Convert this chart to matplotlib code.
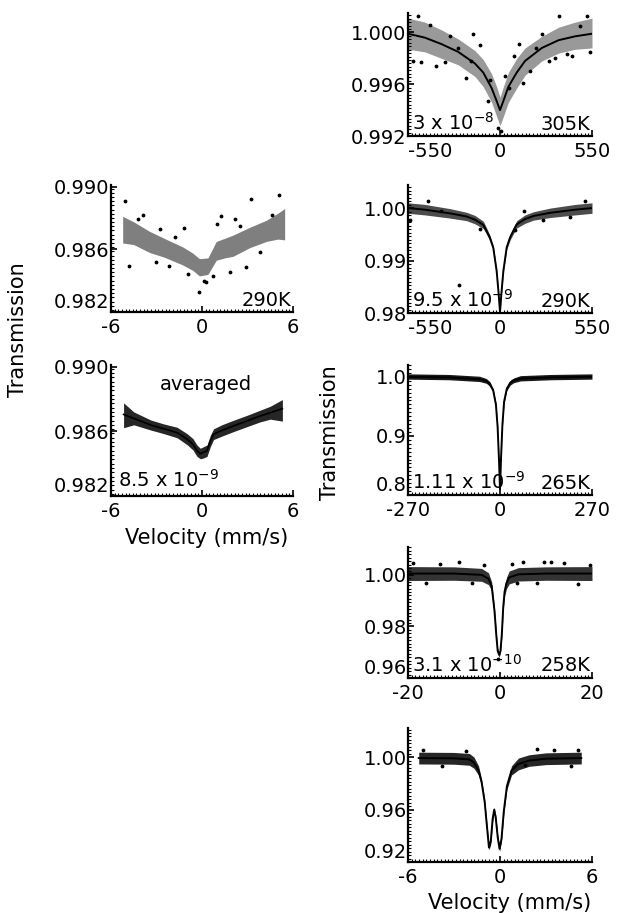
import matplotlib
matplotlib.use("Agg")
import matplotlib.pyplot as plt
from matplotlib.ticker import MultipleLocator

plt.rcParams['font.family'] = ['DejaVu Sans']
plt.rcParams['mathtext.fontset'] = 'dejavusans'

W, H = 617, 913

# ---- 305 K, velocity in mm/s (-550..550) ----
p1_v = [-550, -450, -350, -250, -150, -100, -50, -20, 0, 20, 50, 100, 150, 250, 350, 450, 550]
p1_fit = [0.9999, 0.9996, 0.9991, 0.9985, 0.9976, 0.9969, 0.9957, 0.9947, 0.9940, 0.9947, 0.9958,
          0.9969, 0.9978, 0.9988, 0.9994, 0.9997, 0.9999]
p1_hi = [1.0011, 1.0008, 1.0002, 0.9995, 0.9986, 0.9979, 0.9968, 0.9958, 0.9950, 0.9958, 0.9969,
         0.9980, 0.9988, 0.9997, 1.0004, 1.0008, 1.0011]
p1_lo = [0.9987, 0.9985, 0.9980, 0.9975, 0.9966, 0.9958, 0.9946, 0.9935, 0.9928, 0.9935, 0.9946,
         0.9957, 0.9967, 0.9978, 0.9984, 0.9987, 0.9988]
p1_dx = [-490, -471, -381, -164, -173, 352, 520, 431, 114, 84, -9, 5, -74, 55, 213, 292, -203,
         -253, -520, -300, 400, 250, 180, -60, 30, -420, -330, -120, 140, 330, 480, 540]
p1_dy = [1.0013, 0.9977, 0.9974, 0.9999, 0.9978, 1.0013, 1.0013, 0.9982, 0.9991, 0.9982, 0.99265,
         0.9924, 0.9947, 0.9957, 0.9988, 0.9978, 0.9965, 0.9988, 0.9978, 0.9997, 0.9983, 0.9999,
         0.9970, 0.9963, 0.9966, 1.0006, 0.9977, 0.9990, 0.9961, 0.9980, 1.0005, 0.9985]

# ---- 290 K (-550..550) ----
p2_v = [-550, -450, -300, -200, -150, -100, -80, -60, -40, -20, -8, 0, 8, 20, 40, 60, 80, 100,
        150, 200, 300, 450, 550]
p2_fit = [1.0000, 0.9997, 0.9990, 0.9984, 0.9978, 0.9968, 0.9956, 0.9943, 0.9924, 0.9880, 0.9836,
          0.9802, 0.9836, 0.9880, 0.9925, 0.9944, 0.9957, 0.9969, 0.9979, 0.9985, 0.9991, 0.9997, 1.0000]
p2_hi = [1.0010, 1.0007, 0.9999, 0.9992, 0.9986, 0.9975, 0.9962, 0.9948, 0.9928, 0.9883, 0.9839,
         0.9804, 0.9839, 0.9883, 0.9929, 0.9949, 0.9963, 0.9976, 0.9987, 0.9993, 1.0000, 1.0007, 1.0010]
p2_lo = [0.9990, 0.9987, 0.9981, 0.9976, 0.9970, 0.9961, 0.9950, 0.9938, 0.9920, 0.9877, 0.9833,
         0.9800, 0.9833, 0.9877, 0.9921, 0.9939, 0.9951, 0.9962, 0.9971, 0.9977, 0.9982, 0.9987, 0.9990]
p2_dx = [-540, -430, -243, -120, 143, 260, 420, 510, -350, 90]
p2_dy = [0.9978, 1.0013, 0.9854, 0.9960, 0.9995, 0.9978, 0.9983, 1.0014, 0.9995, 0.9958]

# ---- 265 K (-270..270) ----
p3_v = [-270, -150, -60, -40, -30, -20, -12, -7, -3, 0, 3, 7, 12, 20, 30, 40, 60, 150, 270]
p3_fit = [1.000, 0.999, 0.996, 0.993, 0.988, 0.977, 0.953, 0.915, 0.860, 0.810, 0.862, 0.918,
          0.958, 0.980, 0.990, 0.994, 0.997, 0.999, 1.000]
p3_hi = [1.005, 1.004, 1.001, 0.997, 0.992, 0.980, 0.956, 0.918, 0.862, 0.812, 0.864, 0.921,
         0.961, 0.983, 0.994, 0.998, 1.002, 1.004, 1.005]
p3_lo = [0.996, 0.995, 0.992, 0.989, 0.984, 0.974, 0.950, 0.912, 0.858, 0.808, 0.860, 0.915,
         0.955, 0.977, 0.986, 0.990, 0.993, 0.995, 0.996]

# ---- 258 K (-20..20) ----
p4_v = [-20, -10, -4, -2.5, -1.8, -1.2, -0.8, -0.5, -0.2, 0.1, 0.4, 0.7, 1.0, 1.4, 2.0, 4, 10, 20]
p4_fit = [1.0005, 1.0005, 1.0000, 0.9985, 0.9955, 0.9860, 0.9765, 0.9705, 0.9690, 0.9705, 0.9770,
          0.9875, 0.9935, 0.9968, 0.9990, 1.0002, 1.0005, 1.0005]
p4_hi = [1.0032, 1.0031, 1.0025, 1.0008, 0.9972, 0.9872, 0.9776, 0.9715, 0.9700, 0.9715, 0.9781,
         0.9888, 0.9952, 0.9990, 1.0015, 1.0028, 1.0031, 1.0032]
p4_lo = [0.9978, 0.9979, 0.9975, 0.9962, 0.9938, 0.9848, 0.9754, 0.9695, 0.9680, 0.9695, 0.9759,
         0.9862, 0.9918, 0.9946, 0.9965, 0.9976, 0.9979, 0.9978]
p4_dx = [-19, -16, -13, -9, -6, -3.5, -0.4, 2.5, 5, 8, 11, 14, 17, 19.5, 3.8, 9.5]
p4_dy = [1.0045, 0.9968, 1.0042, 1.0048, 0.9970, 1.0040, 0.9672, 1.0042, 1.0048, 0.9968, 1.0050,
         1.0045, 0.9966, 1.0040, 0.9970, 1.0050]

# ---- bottom spectrum (-6..6 mm/s) ----
p5_v = [-5.3, -3, -2, -1.7, -1.4, -1.2, -1.0, -0.85, -0.72, -0.6, -0.48, -0.38, -0.28, -0.15,
        -0.03, 0.1, 0.25, 0.45, 0.75, 1.2, 1.9, 3, 5.3]
p5_fit = [0.9995, 0.9993, 0.9985, 0.9960, 0.9900, 0.9810, 0.9660, 0.9470, 0.9310, 0.9360, 0.9530,
          0.9600, 0.9540, 0.9390, 0.9300, 0.9380, 0.9590, 0.9780, 0.9900, 0.9950, 0.9976, 0.9990, 0.9995]
p5_hi = [1.0040, 1.0038, 1.0030, 1.0003, 0.9935, 0.9835, 0.9680, 0.9490, 0.9330, 0.9380, 0.9550,
         0.9620, 0.9560, 0.9410, 0.9320, 0.9400, 0.9610, 0.9805, 0.9935, 0.9995, 1.0020, 1.0035, 1.0040]
p5_lo = [0.9950, 0.9948, 0.9940, 0.9917, 0.9865, 0.9785, 0.9640, 0.9450, 0.9290, 0.9340, 0.9510,
         0.9580, 0.9520, 0.9370, 0.9280, 0.9360, 0.9570, 0.9755, 0.9865, 0.9905, 0.9932, 0.9945, 0.9950]
p5_dx = [-5.0, -3.8, -2.2, 1.6, 2.4, 3.5, 4.6, 5.1]
p5_dy = [1.0058, 0.9938, 1.0052, 0.9940, 1.0062, 1.0055, 0.9936, 1.0058]

# ---- left: 290 K (-6..6 mm/s) ----
la_v = [-5.23, -4.5, -3.47, -2.5, -1.27, -0.6, -0.17, 0.39, 0.94, 1.5, 2.04, 3.14, 4.24, 5.0, 5.45]
la_hi = [0.98810, 0.98775, 0.98715, 0.98670, 0.98615, 0.98575, 0.98540, 0.98545, 0.98650, 0.98670,
         0.98690, 0.98740, 0.98785, 0.98830, 0.98860]
la_lo = [0.98640, 0.98630, 0.98580, 0.98550, 0.98500, 0.98465, 0.98430, 0.98440, 0.98530, 0.98545,
         0.98555, 0.98610, 0.98650, 0.98665, 0.98660]
la_dx = [-5.05, -4.79, -3.91, -1.16, -0.21, 0.28, 0.72, 1.27, 1.82, 2.48, 3.25, 2.92, 5.08, -2.15,
         -3.03, -4.2, -1.8, 0.1, 1.0, 3.8, 4.6, -2.8, 2.2, -0.9]
la_dy = [0.98905, 0.98495, 0.98821, 0.98737, 0.98326, 0.98389, 0.98432, 0.98811, 0.98453, 0.98747,
         0.98920, 0.98484, 0.98947, 0.98495, 0.98516, 0.98790, 0.98680, 0.98395, 0.98760, 0.98580,
         0.98820, 0.98730, 0.98790, 0.98440]

# ---- left: averaged ----
lb_v = [-5.17, -4.5, -3.38, -2.5, -1.64, -0.98, -0.6, -0.33, -0.11, 0.1, 0.33, 0.55, 0.76, 1.3,
        2.07, 3.0, 3.82, 4.5, 5.3]
lb_fit = [0.98704, 0.98680, 0.98639, 0.98615, 0.98592, 0.98551, 0.98520, 0.98480, 0.98462, 0.98470,
          0.98480, 0.98540, 0.98582, 0.98605, 0.98633, 0.98665, 0.98694, 0.98715, 0.98740]
lb_hi = [0.98776, 0.98720, 0.98670, 0.98645, 0.98625, 0.98585, 0.98555, 0.98515, 0.98495, 0.98505,
         0.98515, 0.98575, 0.98615, 0.98640, 0.98668, 0.98700, 0.98730, 0.98755, 0.98796]
lb_lo = [0.98622, 0.98640, 0.98608, 0.98585, 0.98560, 0.98517, 0.98485, 0.98445, 0.98430, 0.98435,
         0.98445, 0.98505, 0.98549, 0.98570, 0.98598, 0.98630, 0.98658, 0.98675, 0.98663]


def make_axes(px_left, px_right, px_top, px_bottom):
    return fig.add_axes([px_left / W, 1 - px_bottom / H, (px_right - px_left) / W,
                         (px_bottom - px_top) / H])


def style(ax, xlim, ylim, xticks, xlabels, yticks, ylabels, first_left=False, lift_bottom=True):
    ax.set_xlim(*xlim)
    ax.set_ylim(*ylim)
    for s in ['top', 'right']:
        ax.spines[s].set_visible(False)
    for s in ['left', 'bottom']:
        ax.spines[s].set_linewidth(1.6)
    ax.set_xticks(xticks, xlabels)
    ax.set_yticks(yticks, ylabels)
    ax.xaxis.set_minor_locator(MultipleLocator((xlim[1] - xlim[0]) / 50))
    ax.yaxis.set_minor_locator(MultipleLocator((yticks[-1] - yticks[0]) / 30))
    ax.tick_params(which='major', direction='in', length=4, width=1.2, labelsize=14)
    ax.tick_params(axis='x', which='major', pad=4)
    ax.tick_params(axis='y', which='major', pad=1)
    ax.tick_params(which='minor', direction='in', length=2, width=0.8)
    for lab in ax.get_yticklabels():
        lab.set_verticalalignment('center_baseline')
    if lift_bottom:
        ax.get_yticklabels()[0].set_verticalalignment('bottom')
    if first_left:
        ax.get_xticklabels()[0].set_horizontalalignment('left')


def band(ax, v, lo, hi, alpha):
    ax.fill_between(v, lo, hi, color='black', alpha=alpha, linewidth=0)


fig = plt.figure(figsize=(W / 100, H / 100), dpi=100)
txt = dict(fontsize=14)

# right column
ax1 = make_axes(408, 592, 13, 136)
band(ax1, p1_v, p1_lo, p1_hi, 0.4)
ax1.plot(p1_v, p1_fit, color='black', lw=1.4)
ax1.scatter(p1_dx, p1_dy, s=3, color='black')
style(ax1, (-550, 550), (0.992, 1.0015), [-550, 0, 550], ['-550', '0', '550'],
      [0.992, 0.996, 1.000], ['0.992', '0.996', '1.000'], first_left=True, lift_bottom=False)
ax1.text(0.02, 0.05, r'3 x 10$^{-8}$', transform=ax1.transAxes, **txt)
ax1.text(0.99, 0.05, '305K', transform=ax1.transAxes, ha='right', **txt)

ax2 = make_axes(408, 592, 185, 313)
band(ax2, p2_v, p2_lo, p2_hi, 0.7)
ax2.plot(p2_v, p2_fit, color='black', lw=1.4)
ax2.scatter(p2_dx, p2_dy, s=3, color='black')
style(ax2, (-550, 550), (0.98, 1.0044), [-550, 0, 550], ['-550', '0', '550'],
      [0.98, 0.99, 1.00], ['0.98', '0.99', '1.00'], first_left=True, lift_bottom=False)
ax2.text(0.02, 0.05, r'9.5 x 10$^{-9}$', transform=ax2.transAxes, **txt)
ax2.text(0.99, 0.05, '290K', transform=ax2.transAxes, ha='right', **txt)

ax3 = make_axes(408, 592, 365, 495)
band(ax3, p3_v, p3_lo, p3_hi, 0.9)
ax3.plot(p3_v, p3_fit, color='black', lw=1.4)
style(ax3, (-270, 270), (0.8, 1.02), [-270, 0, 270], ['-270', '0', '270'],
      [0.8, 0.9, 1.0], ['0.8', '0.9', '1.0'])
ax3.text(0.02, 0.05, r'1.11 x 10$^{-9}$', transform=ax3.transAxes, **txt)
ax3.text(0.99, 0.05, '265K', transform=ax3.transAxes, ha='right', **txt)

ax4 = make_axes(408, 592, 547, 678)
band(ax4, p4_v, p4_lo, p4_hi, 0.8)
ax4.plot(p4_v, p4_fit, color='black', lw=1.4)
ax4.scatter(p4_dx, p4_dy, s=3, color='black')
style(ax4, (-20, 20), (0.96, 1.0108), [-20, 0, 20], ['-20', '0', '20'],
      [0.96, 0.98, 1.00], ['0.96', '0.98', '1.00'])
ax4.text(0.02, 0.05, r'3.1 x 10$^{-10}$', transform=ax4.transAxes, **txt)
ax4.text(0.99, 0.05, '258K', transform=ax4.transAxes, ha='right', **txt)

ax5 = make_axes(408, 592, 728, 862)
band(ax5, p5_v, p5_lo, p5_hi, 0.85)
ax5.plot(p5_v, p5_fit, color='black', lw=1.4)
ax5.scatter(p5_dx, p5_dy, s=3, color='black')
style(ax5, (-6, 6), (0.92, 1.0225), [-6, 0, 6], ['-6', '0', '6'],
      [0.92, 0.96, 1.00], ['0.92', '0.96', '1.00'])

# left column
axa = make_axes(111, 293, 185, 312)
band(axa, la_v, la_lo, la_hi, 0.5)
axa.scatter(la_dx, la_dy, s=3, color='black')
style(axa, (-6, 6), (0.982, 0.9901), [-6, 0, 6], ['-6', '0', '6'],
      [0.982, 0.986, 0.990], ['0.982', '0.986', '0.990'])
axa.text(0.99, 0.05, '290K', transform=axa.transAxes, ha='right', **txt)

axb = make_axes(111, 293, 365, 496)
band(axb, lb_v, lb_lo, lb_hi, 0.85)
axb.plot(lb_v, lb_fit, color='black', lw=1.2)
style(axb, (-6, 6), (0.982, 0.9901), [-6, 0, 6], ['-6', '0', '6'],
      [0.982, 0.986, 0.990], ['0.982', '0.986', '0.990'])
axb.text(0.52, 0.85, 'averaged', transform=axb.transAxes, ha='center', va='center', **txt)
axb.text(0.04, 0.07, r'8.5 x 10$^{-9}$', transform=axb.transAxes, **txt)

# axis titles
fig.text(18 / W, 1 - 330 / H, 'Transmission', rotation=90, ha='center', va='center', fontsize=15)
fig.text(330 / W, 1 - 433 / H, 'Transmission', rotation=90, ha='center', va='center', fontsize=15)
fig.text(207 / W, 1 - 538 / H, 'Velocity (mm/s)', ha='center', va='center', fontsize=15)
fig.text(510 / W, 1 - 903 / H, 'Velocity (mm/s)', ha='center', va='center', fontsize=15)

fig.savefig('out.png', dpi=100)
